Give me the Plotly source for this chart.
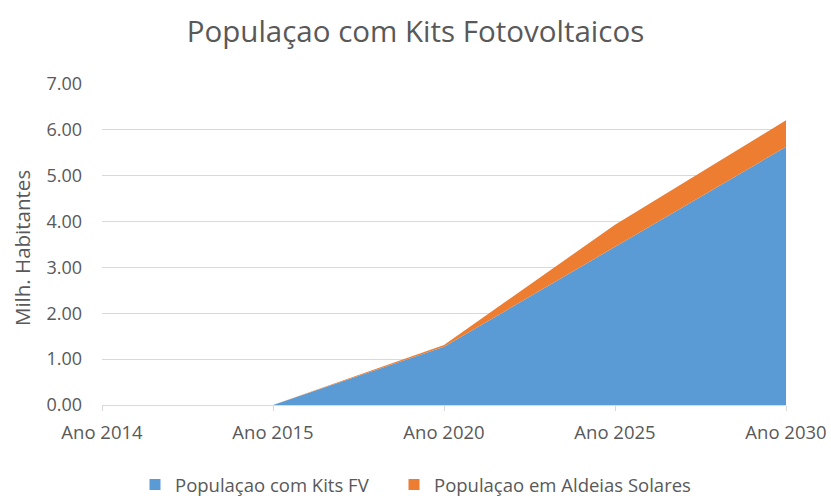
import plotly.graph_objects as go

categories = ["Ano 2014", "Ano 2015", "Ano 2020", "Ano 2025", "Ano 2030"]
kits_fv = [0.0, 0.0, 1.27, 3.45, 5.63]
aldeias_solares = [0.0, 0.0, 0.04, 0.48, 0.58]
y_ticks = [0, 1, 2, 3, 4, 5, 6, 7]
y_tick_labels = ["0.00", "1.00", "2.00", "3.00", "4.00", "5.00", "6.00", "7.00"]

FONT = "Open Sans, sans-serif"
GREY = "#595959"
BLUE = "#5B9BD5"
ORANGE = "#ED7D31"

L, R, T, B = 102, 45, 84, 94
W, H = 831, 499
PW, PH = W - L - R, H - T - B

xs = list(range(len(categories)))
fig = go.Figure()
fig.add_trace(go.Scatter(
    x=xs, y=kits_fv, name="Populaçao com Kits FV", showlegend=False,
    mode="lines", line=dict(width=0, color=BLUE), fillcolor=BLUE,
    stackgroup="one", hoverinfo="x+y"))
fig.add_trace(go.Scatter(
    x=xs, y=aldeias_solares, name="Populaçao em Aldeias Solares", showlegend=False,
    mode="lines", line=dict(width=0, color=ORANGE), fillcolor=ORANGE,
    stackgroup="one", hoverinfo="x+y"))
# legend entries with square swatches
fig.add_trace(go.Scatter(x=[None], y=[None], mode="markers", name="Populaçao com Kits FV",
                         marker=dict(symbol="square", size=11, color=BLUE), legend="legend"))
fig.add_trace(go.Scatter(x=[None], y=[None], mode="markers", name="Populaçao em Aldeias Solares",
                         marker=dict(symbol="square", size=11, color=ORANGE), legend="legend2"))

leg_common = dict(orientation="h", xanchor="left", y=(405 - 485) / PH, yanchor="middle",
                  font=dict(size=18.5, color=GREY), itemwidth=30, bgcolor="rgba(0,0,0,0)")

fig.update_layout(
    width=W, height=H,
    margin=dict(l=L, r=R, t=T, b=B, autoexpand=False),
    paper_bgcolor="white", plot_bgcolor="white",
    font=dict(family=FONT, color=GREY, size=18),
    title=dict(text="Populaçao com Kits Fotovoltaicos", x=0.5, xanchor="center",
               y=1 - 32 / H, yanchor="middle",
               font=dict(size=29.5, color=GREY, family=FONT)),
    showlegend=True,
    legend=dict(x=(150 - 15 - L) / PW, **leg_common),
    legend2=dict(x=(409 - 15 - L) / PW, **leg_common),
    xaxis=dict(
        tickmode="array", tickvals=xs, ticktext=categories,
        range=[0, len(categories) - 1], showgrid=False, zeroline=False,
        showline=True, linecolor="#d9d9d9", linewidth=1,
        ticks="outside", ticklen=5, tickcolor="#d9d9d9",
        ticklabelstandoff=6, automargin=False,
        tickfont=dict(size=18.5, color=GREY)),
    yaxis=dict(
        tickmode="array", tickvals=y_ticks, ticktext=y_tick_labels,
        range=[0, 7], showgrid=True, gridcolor="#d9d9d9", gridwidth=1,
        zeroline=False, showline=False, ticks="", ticklabelstandoff=19,
        automargin=False,
        tickfont=dict(size=18, color=GREY)),
    annotations=[dict(
        text="Milh. Habitantes", textangle=-90, showarrow=False,
        xref="paper", yref="paper", x=(22 - L) / PW, y=(405 - 248) / PH,
        xanchor="center", yanchor="middle",
        font=dict(size=20.5, color=GREY, family=FONT))],
)

fig.write_html("out.html", config={"displayModeBar": False},
               post_script="document.body.style.margin='0';")
